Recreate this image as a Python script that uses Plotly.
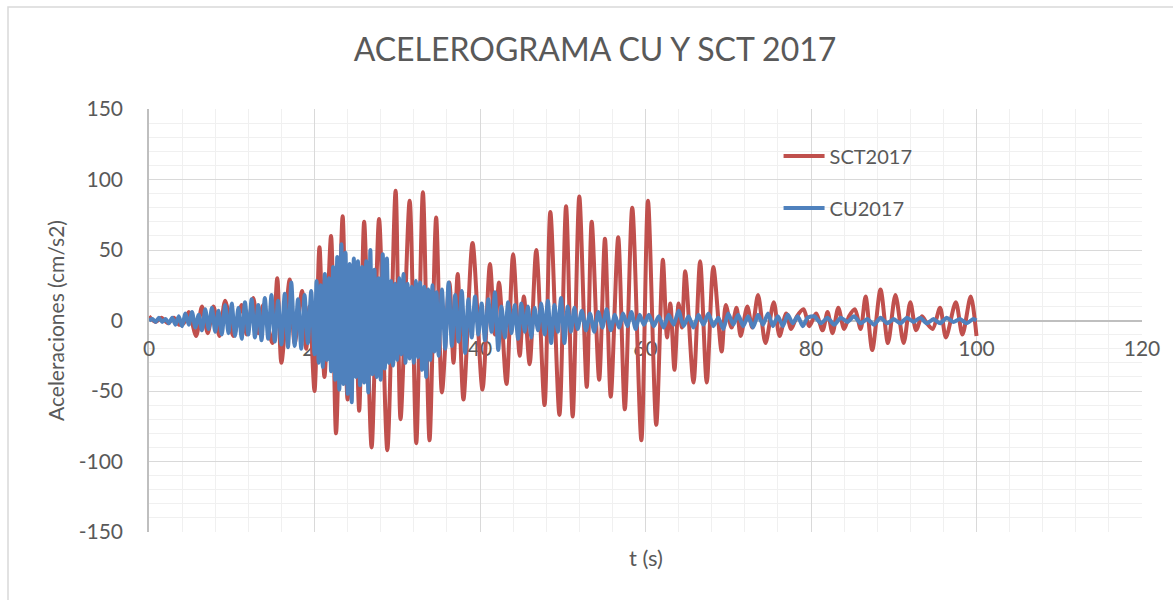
import plotly.graph_objects as go

# ---------------- data ----------------
SCT_T = [0.0, 0.8, 1.5, 2.3, 3.0, 3.6, 4.2, 4.8, 5.7, 6.4, 7.1, 7.8, 8.5, 9.2, 10.2, 11.2, 11.8, 12.6, 13.2, 13.8,
         14.9, 15.5, 16.0, 17.0, 17.6, 18.5, 19.0, 19.4, 20.0, 20.6, 21.2, 22.0, 22.6, 23.4, 24.0, 24.8, 25.4, 26.0,
         26.9, 27.8, 28.8, 29.8, 30.4, 31.5, 32.3, 33.1, 33.9, 34.7, 35.4, 36.3, 36.8, 37.3, 38.0, 39.1, 40.3, 41.2,
         41.8, 42.3, 43.2, 44.0, 44.8, 45.3, 46.0, 46.8, 47.8, 48.5, 49.6, 50.4, 51.2, 52.0, 52.9, 53.5, 54.4, 55.1,
         55.8, 56.7, 57.5, 58.4, 59.5, 60.3, 61.3, 62.1, 62.6, 63.0, 63.5, 64.0, 64.4, 64.8, 65.8, 66.6, 67.4, 68.2,
         69.2, 69.7, 70.4, 71.0, 71.5, 72.3, 72.9, 73.6, 74.5, 75.5, 76.2, 77.0, 77.6, 78.3, 79.1, 79.8, 80.6, 81.4,
         82.0, 82.6, 83.3, 84.0, 84.6, 85.3, 86.0, 86.6, 87.4, 88.4, 89.3, 90.2, 91.2, 92.0, 92.7, 93.4, 94.0, 94.7,
         95.6, 96.3, 97.5, 98.3, 99.3, 100.0]
SCT_A = [3, -1, 2, -2, 2, -3, -2, 6, -11, 10, -9, 10, -11, 14, -11, 11, -10, 16, -9, 11,
         -16, 30, -30, 29, -16, 21, -20, 10, -50, 52, -40, 60, -80, 74, -56, 40, -64, 70,
         -90, 72, -92, 92, -70, 85, -87, 91, -85, 73, -51, 27, -30, 33, -56, 55, -49, 40,
         -10, 27, -45, 47, -25, 17, -31, 50, -60, 77, -67, 81, -68, 88, -47, 70, -42, 58,
         -54, 59, -63, 80, -85, 85, -74, 43, -12, 12, -35, 12, -5, 35, -44, 42, -44, 38,
         -22, 11, -5, 9, -11, 10, -5, 18, -16, 13, -11, 5, -6, 3, 8, -4, 5, -7,
         6, -9, 9, -6, 3, 8, -6, 17, -21, 22, -16, 18, -16, 13, -7, 3, -2, -6,
         9, -12, 13, -10, 17, -11]

CU_T = [0.0, 0.4, 0.8, 1.2, 1.6, 2.0, 2.4, 2.8, 3.2, 3.6, 4.0, 4.4, 4.8, 5.2, 5.6, 6.0, 6.4, 6.8, 7.2, 7.6,
        8.0, 8.4, 8.8, 9.2, 9.6, 10.0, 10.4, 10.8, 11.2, 11.6, 12.0, 12.4, 12.8, 13.2, 13.6, 14.0, 14.4, 14.8,
        15.2, 15.6, 16.0, 16.4, 16.8, 17.2, 17.6, 18.0, 18.4, 18.8, 19.2, 19.6, 20.0,
        20.25, 20.5, 20.75, 21.0, 21.25, 21.5, 21.75, 22.0, 22.25, 22.5, 22.75, 23.0, 23.25, 23.5, 23.75, 24.0,
        24.25, 24.5, 24.75, 25.0, 25.25, 25.5, 25.75, 26.0, 26.25, 26.5, 26.75, 27.0, 27.25, 27.5, 27.75, 28.0,
        28.25, 28.5, 28.75, 29.0, 29.25, 29.5, 29.75, 30.0, 30.25, 30.5, 30.75, 31.0, 31.25, 31.5, 31.75, 32.0,
        32.25, 32.5, 32.75, 33.0, 33.25, 33.5, 33.75, 34.0, 34.25, 34.5, 34.75, 35.0,
        35.4, 35.8, 36.2, 36.6, 37.0, 37.4, 37.8, 38.2, 38.6, 39.0, 39.4, 39.8, 40.2, 40.6, 41.0, 41.4, 41.8,
        42.2, 42.6, 43.0, 43.4, 43.8, 44.2, 44.6, 45.0, 45.4, 45.8, 46.2, 46.6, 47.0, 47.4, 47.8, 48.2, 48.6,
        49.0, 49.4, 49.8, 50.2, 50.6, 51.0, 51.4, 51.8,
        52.3, 52.8, 53.3, 53.8, 54.3, 54.8, 55.3, 55.8, 56.3, 56.8, 57.3, 57.8, 58.3, 58.8, 59.3, 59.8,
        60.4, 61.0, 61.6, 62.2, 62.8, 63.4, 64.0, 64.6, 65.2, 65.8, 66.4, 67.0, 67.6, 68.2, 68.8, 69.4, 70.0,
        70.6, 71.2, 71.8, 72.4, 73.0, 73.6, 74.2, 74.8, 75.4, 76.0, 76.6, 77.2, 77.8, 78.4, 79.0, 79.6,
        80.4, 81.2, 82.0, 82.8, 83.6, 84.4, 85.2, 86.0, 86.8, 87.6, 88.4, 89.2, 90.0, 90.8, 91.6, 92.4, 93.2,
        94.0, 94.8, 95.6, 96.4, 97.2, 98.0, 98.8, 99.6, 100.0]
CU_A = [0, 1, -1, 2, -1, 1, -2, 2, -3, 3, -4, 5, -3, 6, -5, 4, -7, 8, -6, 9,
        -8, 7, -10, 11, -9, 12, -11, 9, -13, 13, -10, 15, -12, 11, -14, 16, -13, 18,
        -15, 14, -17, 19, -19, 27, -18, 15, -20, 18, -16, 21, -24,
        28, -30, 25, -33, 33, -28, 30, -36, 38, -42, 45, -49, 54, -45, 48, -52,
        40, -58, 44, -40, 42, -46, 38, -44, 42, -51, 50, -38, 36, -40, 30, -42,
        47, -34, 44, -30, 28, -32, 26, -28, 30, -24, 33, -30, 26, -27, 24, -30,
        28, -26, 27, -35, 24, -40, 22, -28, 25, -22, 20, -25,
        22, -20, 27, -18, 18, -15, 21, -23, 15, -12, 17, -10, 12, -14, 15, -8, 20,
        -21, 10, -12, 13, -9, 11, -13, 12, -8, 10, -12, 9, -7, 12, -10, 14, -16,
        11, -8, 16, -16, 10, -8, 9, -6,
        7, -7, 5, -8, 6, -5, 8, -7, 4, -5, 5, -4, 6, -6, 4, -3,
        4, -4, 3, -5, 4, -3, 7, -4, 3, -5, 4, -3, 5, -4, 2, -6, 5,
        -3, 4, -4, 3, -5, 4, -3, 5, -4, 3, -4, 4, -2, 3, -4, 2,
        3, -2, 2, -3, 2, -1, 3, -2, 1, -3, 2, -2, 1, -2, 2, -1, 2,
        -2, 1, -2, 2, -1, 1, -2, 1, 0]

SERIES_NAMES = ["SCT2017", "CU2017"]
TITLE = "ACELEROGRAMA CU Y SCT 2017"
X_TITLE = "t (s)"
Y_TITLE = "Aceleraciones (cm/s2)"
X_TICKS = [0, 20, 40, 60, 80, 100, 120]
Y_TICKS = [-150, -100, -50, 0, 50, 100, 150]
Y_TICK_LABELS = ["-150", "-100", "-50", "0", "50", "100", "150"]

# ---------------- styling ----------------
RED = "#C0504D"
BLUE = "#4F81BD"
TXT = "#595959"
FONT = "Lato"

fig = go.Figure()
fig.add_trace(go.Scatter(x=SCT_T, y=SCT_A, mode="lines", name=SERIES_NAMES[0], legendgroup="a",
                         line=dict(color=RED, width=4, shape="spline", smoothing=0.8)))
fig.add_trace(go.Scatter(x=CU_T, y=CU_A, mode="lines", name=SERIES_NAMES[1], legendgroup="b",
                         line=dict(color=BLUE, width=4, shape="spline", smoothing=0.6)))

fig.update_layout(
    width=1173, height=600,
    margin=dict(l=149, r=31, t=109, b=68, autoexpand=False),
    paper_bgcolor="white", plot_bgcolor="white",
    font=dict(family=FONT, color=TXT, size=20),
    title=dict(text=TITLE, x=595 / 1173, xanchor="center", xref="container", y=1 - 50 / 600, yanchor="middle",
               yref="container", font=dict(family=FONT, size=32, color=TXT)),
    legend=dict(x=0.634, y=0.935, xanchor="left", yanchor="top", bgcolor="rgba(0,0,0,0)",
                font=dict(size=20, color=TXT), tracegroupgap=23, traceorder="grouped", itemwidth=41),
    showlegend=True,
)

fig.update_xaxes(
    range=[0, 120], tickvals=X_TICKS,
    showgrid=True, gridcolor="#D9D9D9", gridwidth=1,
    minor=dict(dtick=4, showgrid=True, gridcolor="#F0F0F0", gridwidth=1),
    showline=True, linecolor="#BFBFBF", linewidth=1.5,
    anchor="free", position=0.5, layer="below traces",
    zeroline=False, ticks="", ticklabelstandoff=10,
    tickfont=dict(size=21, color=TXT),
)
fig.update_yaxes(
    range=[-150, 150], tickvals=Y_TICKS, ticktext=Y_TICK_LABELS,
    showgrid=True, gridcolor="#D9D9D9", gridwidth=1,
    minor=dict(dtick=10, showgrid=True, gridcolor="#F0F0F0", gridwidth=1),
    showline=True, linecolor="#BFBFBF", linewidth=1.5, layer="below traces",
    zeroline=False, ticks="", ticklabelstandoff=20,
    tickfont=dict(size=21, color=TXT),
    title=dict(text=Y_TITLE, font=dict(size=21, color=TXT), standoff=8),
)

# x-axis title below the plot area
fig.add_annotation(text=X_TITLE, xref="paper", yref="paper", x=0.5, y=0, xanchor="center", yanchor="top",
                   yshift=-10, showarrow=False, font=dict(size=22, color=TXT, family=FONT))

# chart border (light grey frame)
fig.add_shape(type="rect", xref="paper", yref="paper",
              x0=-141 / 993, x1=1040 / 993, y0=-80 / 423, y1=(423 + 102) / 423,
              line=dict(color="#D9D9D9", width=1.5), fillcolor="rgba(0,0,0,0)", layer="below")

fig.write_html("out.html", config={"displayModeBar": False},
               post_script="document.body.style.margin='0px';document.body.style.overflow='hidden';")
